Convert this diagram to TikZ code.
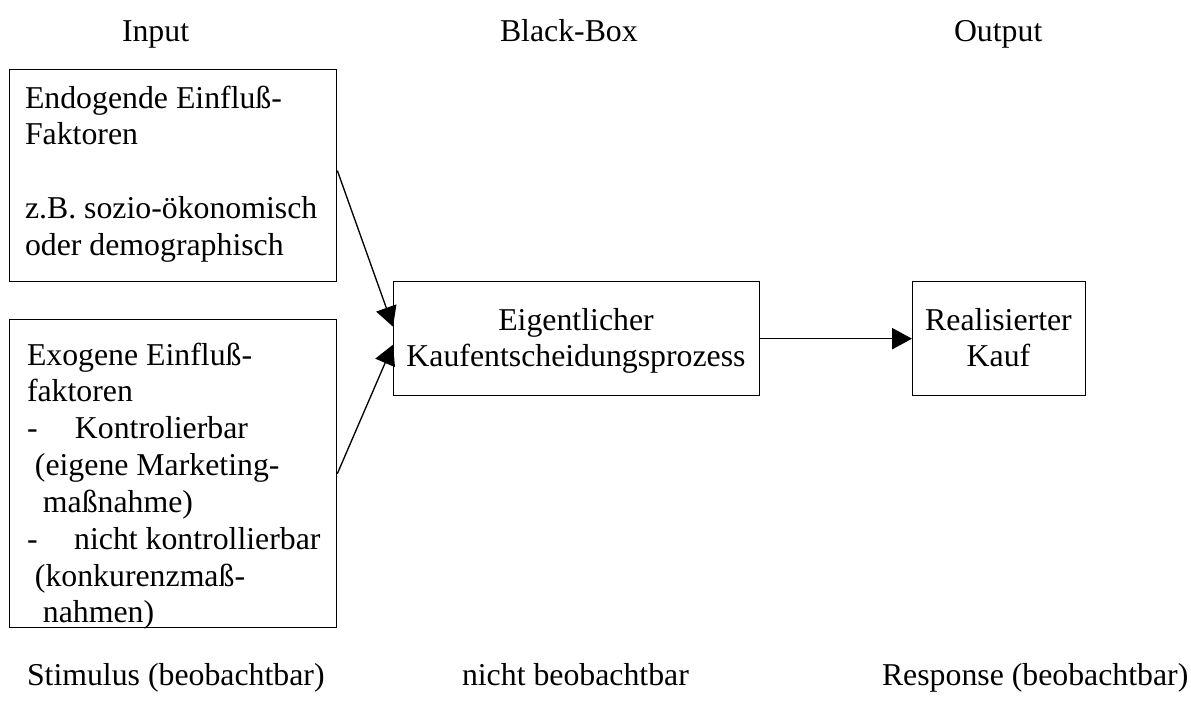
\documentclass[tikz,border=0pt]{standalone}
\usepackage{fontspec}
\setmainfont{Liberation Serif}
\usetikzlibrary{arrows.meta,calc}
\def\PX{0.3774pt}
\tikzset{
  box/.style={draw, line width=0.5pt, inner sep=0pt, anchor=north west},
  txt/.style={inner sep=0pt, outer sep=0pt, font=\fontsize{12}{13.9}\selectfont},
  ml/.style={txt, align=flush left, anchor=base west},
  mc/.style={txt, align=flush center, anchor=base},
  conn/.style={line width=0.5pt, -{Triangle[length=7.5pt, width=8pt]}}
}
\begin{document}
\begin{tikzpicture}[x=0.3774pt, y=-0.3774pt]
\useasboundingbox (0,0) rectangle (1191,706);
% header
\node[txt, anchor=base west] (hin) at (122,41) {Input};
\node[txt, anchor=base west] (hbb) at (500,41) {Black-Box};
\node[txt, anchor=base west] (hout) at (954,41) {Output};
% boxes
\node[box, minimum width=327*\PX, minimum height=212*\PX] (endo) at (9,69) {};
\node[box, minimum width=327*\PX, minimum height=308*\PX] (exo) at (9,319) {};
\node[box, minimum width=366*\PX, minimum height=114*\PX] (proc) at (393,281) {};
\node[box, minimum width=173*\PX, minimum height=114*\PX] (kauf) at (912,281) {};
% box texts
\node[ml, text width=310*\PX] (endot) at (25,108) {Endogende Einfluß-\\Faktoren\\[13.9pt]z.B. sozio-ökonomisch\\oder demographisch};
\node[ml, text width=320*\PX] (exot) at (27,365) {Exogene Einfluß-\\faktoren\\\makebox[18.1pt][l]{-}Kontrolierbar\\\hspace*{3pt}(eigene Marketing-\\\hspace*{6pt}maßnahme)\\\makebox[17.8pt][l]{-}nicht kontrollierbar\\\hspace*{3pt}(konkurenzmaß-\\\hspace*{6pt}nahmen)};
\node[mc, text width=360*\PX] (proct) at (576,330) {Eigentlicher\\Kaufentscheidungsprozess};
\node[mc, text width=170*\PX] (kauft) at (998.5,330) {Realisierter\\Kauf};
% connectors
\draw[conn] ($(endo.north east)!0.476!(endo.south east)$) -- ($(proc.west)+(0,-12)$);
\draw[conn] (exo.east) -- ($(proc.west)+(0,6)$);
\draw[conn] (proc.east) -- (kauf.west);
% footer
\node[txt, anchor=base west] (fst) at (27,685) {Stimulus (beobachtbar)};
\node[txt, anchor=base west] (fnb) at (462,685) {nicht beobachtbar};
\node[txt, anchor=base west] (fre) at (882,685) {Response (beobachtbar)};
\end{tikzpicture}
\end{document}
